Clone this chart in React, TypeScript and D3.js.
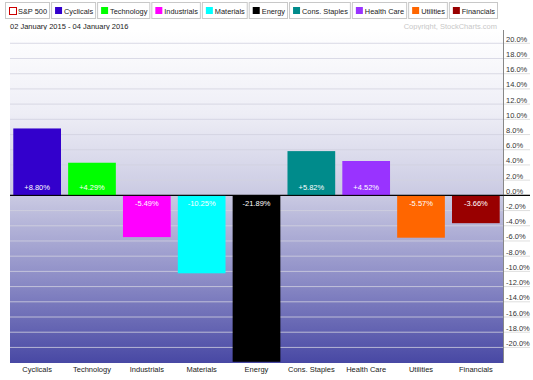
import React from "react";
import * as d3 from "d3";

const categories = ["Cyclicals", "Technology", "Industrials", "Materials", "Energy", "Cons. Staples", "Health Care", "Utilities", "Financials"];
const values = [8.8, 4.29, -5.49, -10.25, -21.89, 5.82, 4.52, -5.57, -3.66];
const colors = ["#3300cc", "#00ff00", "#ff00ff", "#00ffff", "#000000", "#008b8b", "#9933ff", "#ff6600", "#990000"];
const legendNames = ["S&P 500", ...categories];
const legendColors = ["none", ...colors];
const yTicks = d3.range(-20, 22, 2);
const dateText = "02 January 2015 - 04 January 2016";
const copyright = "Copyright, StockCharts.com";

const W = 533, H = 380;
const FONT = "'Liberation Sans', Arial, sans-serif";

function textWidth(t: string, size: number) {
  if (typeof document === "undefined") return t.length * size * 0.5;
  const c = document.createElement("canvas").getContext("2d");
  if (!c) return t.length * size * 0.5;
  c.font = `${size}px 'Liberation Sans'`;
  return c.measureText(t).width;
}

export default function App() {
  const left = 10, right = 503, top = 30, bottom = 363;
  const x = d3.scaleBand<string>().domain(categories).range([left, right]).paddingInner(0.13).paddingOuter(0.06);
  const y = d3.scaleLinear().domain([-22.05, 21.75]).range([bottom, top]);
  const y0 = y(0);

  // legend layout: fit between x=5 and x=497
  const legFont = 8;
  const pad = 15, gap = 2;
  const raw = legendNames.map((n) => textWidth(n, legFont));
  const avail = 497 - 5 - gap * (legendNames.length - 1) - pad * legendNames.length;
  const k = avail / d3.sum(raw);
  let lx = 5;
  const legendItems = legendNames.map((n, i) => {
    const tw = raw[i] * k;
    const w = tw + pad;
    const item = { n, c: legendColors[i], x: lx, w, tw };
    lx += w + gap;
    return item;
  });

  const fmt = (v: number) => (v > 0 ? "+" : "") + v.toFixed(2) + "%";

  return (
    <svg width={W} height={H} style={{ position: "absolute", left: 0, top: 0, background: "#fff" }} fontFamily={FONT}>
      <defs>
        <linearGradient id="bg" x1="0" y1="0" x2="0" y2="1">
          <stop offset="0%" stopColor="#ffffff" />
          <stop offset="25%" stopColor="#eeeef6" />
          <stop offset="50%" stopColor="#c9c9e2" />
          <stop offset="75%" stopColor="#8c8cc6" />
          <stop offset="100%" stopColor="#4848a4" />
        </linearGradient>
      </defs>
      {/* legend */}
      {legendItems.map((it, i) => (
        <g key={it.n}>
          <rect x={it.x + 0.5} y={2.5} width={it.w} height={16} fill="#fff" stroke="#c8c8c8" />
          {i === 0 ? (
            <rect x={it.x + 4.5} y={7.5} width={7} height={7} fill="#fff" stroke="#cc0000" />
          ) : (
            <rect x={it.x + 4} y={7} width={7} height={7} fill={it.c} />
          )}
          <text x={it.x + 13} y={14} fontSize={legFont} fill="#222" textLength={it.tw} lengthAdjust="spacingAndGlyphs">{it.n}</text>
        </g>
      ))}
      <text x={10} y={29} fontSize={7.5} fill="#222">{dateText}</text>
      <text x={497} y={29} fontSize={7.5} fill="#c8c8c8" textAnchor="end">{copyright}</text>

      {/* plot background */}
      <rect x={left} y={top} width={right - left} height={bottom - top} fill="url(#bg)" />
      {yTicks.map((t) => (
        <g key={t}>
          <line x1={left} x2={right} y1={y(t)} y2={y(t)} stroke={t === 0 ? "#000" : "#d2d2e0"} strokeWidth={t === 0 ? 1 : 0.8} />
          <line x1={right} x2={530} y1={y(t)} y2={y(t)} stroke={t === 0 ? "#000" : "#d6d6d6"} strokeWidth={t === 0 ? 1 : 0.8} />
          <text x={506} y={y(t) - 1.5} fontSize={7.5} fill="#333">{t.toFixed(1) + "%"}</text>
        </g>
      ))}
      <line x1={right + 0.5} x2={right + 0.5} y1={top} y2={bottom} stroke="#888" />

      {/* bars */}
      {categories.map((c, i) => {
        const v = values[i];
        const bx = x(c) as number;
        const yTop = v >= 0 ? y(v) : y0;
        const h = Math.abs(y(v) - y0);
        return (
          <g key={c}>
            <rect x={bx} y={yTop} width={x.bandwidth()} height={h} fill={colors[i]} />
            <text x={bx + x.bandwidth() / 2} y={v >= 0 ? y0 - 5 : y0 + 11} fontSize={7.5} fill="#fff" textAnchor="middle">{fmt(v)}</text>
            <text x={bx + x.bandwidth() / 2} y={372} fontSize={7.5} fill="#222" textAnchor="middle">{c}</text>
          </g>
        );
      })}
      <line x1={left} x2={530} y1={y0} y2={y0} stroke="#000" />
    </svg>
  );
}
